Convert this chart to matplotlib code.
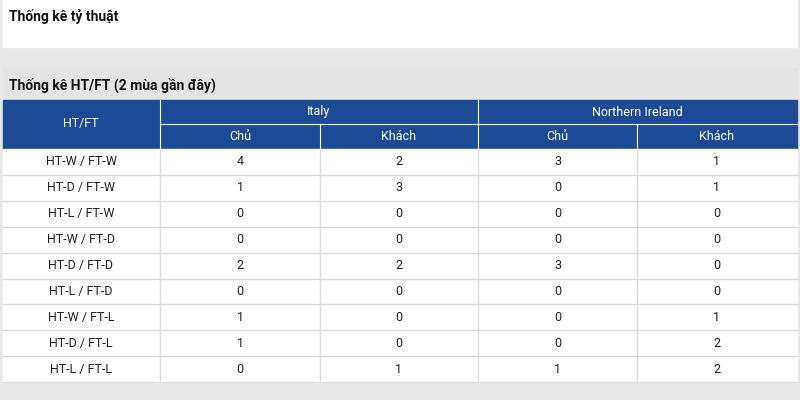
import matplotlib
matplotlib.use("Agg")
import matplotlib.pyplot as plt
from matplotlib.patches import Rectangle

plt.rcParams['font.family'] = ['Roboto', 'DejaVu Sans']

title_top = "Thống kê tỷ thuật"
title_table = "Thống kê HT/FT (2 mùa gần đây)"
teams = ["Italy", "Northern Ireland"]
sub_headers = ["Chủ", "Khách", "Chủ", "Khách"]
row_labels = ["HT-W / FT-W", "HT-D / FT-W", "HT-L / FT-W", "HT-W / FT-D", "HT-D / FT-D",
              "HT-L / FT-D", "HT-W / FT-L", "HT-D / FT-L", "HT-L / FT-L"]
italy_home = [4, 1, 0, 0, 2, 0, 1, 1, 0]
italy_away = [2, 3, 0, 0, 2, 0, 0, 0, 1]
ni_home = [3, 0, 0, 0, 3, 0, 0, 0, 1]
ni_away = [1, 1, 0, 0, 0, 0, 1, 2, 2]

W, H = 800, 400
fig = plt.figure(figsize=(8, 4), dpi=100)
ax = fig.add_axes([0, 0, 1, 1])
ax.set_xlim(0, W); ax.set_ylim(H, 0); ax.axis('off')
bg = '#e8e8e8'; blue = '#1b4b94'; border = '#dcdcdc'
ax.add_patch(Rectangle((0, 0), W, H, color=bg))
ax.add_patch(Rectangle((3, 0), 794, 47, color='white'))
ax.text(9, 17, title_top, fontsize=10, fontweight='bold', va='center', color='#111')
ax.add_patch(Rectangle((3, 68), 794, 32, color='#e4e4e4'))
ax.text(9, 85, title_table, fontsize=10, fontweight='bold', va='center', color='#111')

cols = [3, 160, 320, 478, 637, 797]
ax.add_patch(Rectangle((3, 100), 794, 49, color=blue))
ax.plot([160, 160], [100, 149], color='white', lw=0.8)
ax.plot([478, 478], [100, 149], color='white', lw=0.8)
ax.plot([160, 797], [124, 124], color='white', lw=0.8)
for c in [320, 637]:
    ax.plot([c, c], [124, 149], color='white', lw=0.8)
fs = 9
ax.text(81, 124, "HT/FT", color='white', fontsize=fs, ha='center', va='center')
for i, t in enumerate(teams):
    ax.text((cols[1 + 2 * i] + cols[3 + 2 * i]) / 2, 112, t, color='white', fontsize=fs, ha='center', va='center')
for i, s in enumerate(sub_headers):
    ax.text((cols[1 + i] + cols[2 + i]) / 2, 137, s, color='white', fontsize=fs, ha='center', va='center')

y0, rh = 149, 25.9
data = [italy_home, italy_away, ni_home, ni_away]
n = len(row_labels)
ax.add_patch(Rectangle((3, y0), 794, rh * n, color='white'))
for r in range(n):
    yc = y0 + rh * (r + 0.5)
    ax.text(81, yc, row_labels[r], fontsize=fs, ha='center', va='center', color='#222')
    for j, d in enumerate(data):
        ax.text((cols[1 + j] + cols[2 + j]) / 2, yc, str(d[r]), fontsize=fs, ha='center', va='center', color='#222')
    ax.plot([3, 797], [y0 + rh * (r + 1), y0 + rh * (r + 1)], color=border, lw=1)
for c in cols[1:-1]:
    ax.plot([c, c], [y0, y0 + rh * n], color=border, lw=1)
fig.savefig("out.png", dpi=100)
